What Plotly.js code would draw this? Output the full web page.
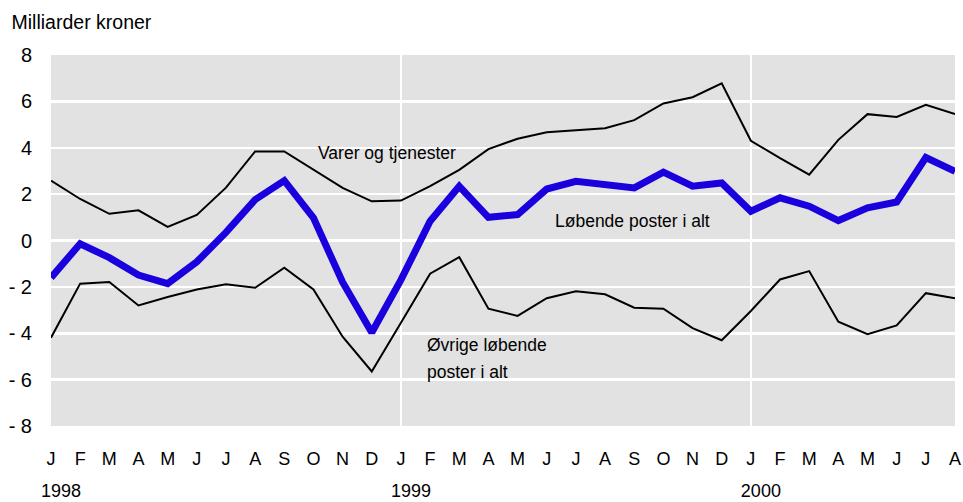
<!DOCTYPE html>
<html>
<head>
<meta charset="utf-8">
<script src="https://cdn.plot.ly/plotly-3.0.1.min.js"></script>
<style>html,body{margin:0;padding:0;background:#fff;}#chart{width:963px;height:502px;}</style>
</head>
<body>
<div id="chart"></div>
<script>
// Month categories (Jan 1998 – Aug 2000)
const months = ['J','F','M','A','M','J','J','A','S','O','N','D',
                'J','F','M','A','M','J','J','A','S','O','N','D',
                'J','F','M','A','M','J','J','A'];
const monthIdx = months.map((m, i) => i);
const years = ['1998', '1999', '2000'];
const yearIdx = [0, 12, 24];

// Series values (milliarder kroner)
const varerOgTjenester = [2.58, 1.79, 1.15, 1.30, 0.59, 1.10, 2.28, 3.84, 3.84, 3.05, 2.27, 1.69,
                          1.72, 2.34, 3.05, 3.94, 4.39, 4.67, 4.74, 4.84, 5.19, 5.91, 6.18, 6.78,
                          4.30, 3.55, 2.84, 4.34, 5.45, 5.33, 5.85, 5.45];
const lobendePoster = [-1.60, -0.14, -0.74, -1.49, -1.86, -0.92, 0.35, 1.76, 2.58, 0.98, -1.80, -3.97,
                       -1.70, 0.83, 2.34, 1.00, 1.12, 2.22, 2.55, 2.44, 2.27, 2.95, 2.34, 2.48,
                       1.26, 1.84, 1.48, 0.86, 1.41, 1.66, 3.58, 2.98];
const ovrigePoster = [-4.19, -1.86, -1.79, -2.80, -2.44, -2.11, -1.89, -2.04, -1.17, -2.11, -4.15, -5.65,
                      -3.55, -1.43, -0.72, -2.94, -3.25, -2.49, -2.19, -2.32, -2.90, -2.94, -3.78, -4.30,
                      -3.04, -1.68, -1.32, -3.50, -4.04, -3.66, -2.27, -2.49];

const yTickVals = [-8, -6, -4, -2, 0, 2, 4, 6, 8];
const yTickText = ['- 8', '- 6', '- 4', '- 2', '0', '2', '4', '6', '8'];

const FONT = '"Liberation Sans", Arial, sans-serif';

const traces = [
  {x: monthIdx, y: varerOgTjenester, type: 'scatter', mode: 'lines', xaxis: 'x', yaxis: 'y',
   line: {color: '#000000', width: 2}, hoverinfo: 'skip'},
  {x: monthIdx, y: ovrigePoster, type: 'scatter', mode: 'lines', xaxis: 'x', yaxis: 'y',
   line: {color: '#000000', width: 2}, hoverinfo: 'skip'},
  {x: monthIdx, y: lobendePoster, type: 'scatter', mode: 'lines', xaxis: 'x2', yaxis: 'y',
   line: {color: '#1a00dc', width: 7}, hoverinfo: 'skip'}
];

const layout = {
  width: 963, height: 502,
  margin: {l: 51, r: 8, t: 55, b: 76, pad: 0},
  paper_bgcolor: '#ffffff',
  plot_bgcolor: '#e2e2e2',
  showlegend: false,
  font: {family: FONT, size: 18, color: '#000'},
  title: {text: 'Milliarder kroner', xref: 'container', yref: 'container',
          x: 0.012, xanchor: 'left', y: 0.956, yanchor: 'middle',
          font: {family: FONT, size: 19.5, color: '#000'}},
  xaxis: {
    range: [0, 31], tickmode: 'array', tickvals: monthIdx, ticktext: months,
    showgrid: false, zeroline: false, showline: false,
    ticks: 'outside', ticklen: 16, tickcolor: 'rgba(0,0,0,0)',
    tickfont: {family: FONT, size: 18, color: '#000'}, fixedrange: true
  },
  xaxis2: {
    overlaying: 'x', anchor: 'y', side: 'bottom',
    range: [0, 31], tickmode: 'array', tickvals: yearIdx, ticktext: years,
    showgrid: true, gridcolor: '#ffffff', gridwidth: 2.5,
    zeroline: false, showline: false,
    ticks: 'outside', ticklen: 48, tickcolor: 'rgba(0,0,0,0)',
    ticklabelshift: 10,
    tickfont: {family: FONT, size: 18, color: '#000'}, fixedrange: true
  },
  yaxis: {
    range: [-8, 8], tickmode: 'array', tickvals: yTickVals, ticktext: yTickText,
    showgrid: true, gridcolor: '#ffffff', gridwidth: 2.5,
    zeroline: false, showline: false,
    ticks: 'outside', ticklen: 14, tickcolor: 'rgba(0,0,0,0)',
    tickfont: {family: FONT, size: 20, color: '#000'}, fixedrange: true
  },
  annotations: [
    {text: 'Varer og tjenester', x: 9.1, y: 3.78, xref: 'x', yref: 'y',
     xanchor: 'left', yanchor: 'middle', showarrow: false,
     font: {family: FONT, size: 17.5, color: '#000'}},
    {text: 'Løbende poster i alt', x: 17.23, y: 0.83, xref: 'x', yref: 'y',
     xanchor: 'left', yanchor: 'middle', showarrow: false,
     font: {family: FONT, size: 17.5, color: '#000'}},
    {text: 'Øvrige løbende', x: 12.83, y: -4.5, xref: 'x', yref: 'y',
     xanchor: 'left', yanchor: 'middle', showarrow: false,
     font: {family: FONT, size: 17.5, color: '#000'}},
    {text: 'poster i alt', x: 12.83, y: -5.69, xref: 'x', yref: 'y',
     xanchor: 'left', yanchor: 'middle', showarrow: false,
     font: {family: FONT, size: 17.5, color: '#000'}}
  ]
};

Plotly.newPlot('chart', traces, layout, {staticPlot: true, displayModeBar: false});
</script>
</body>
</html>
